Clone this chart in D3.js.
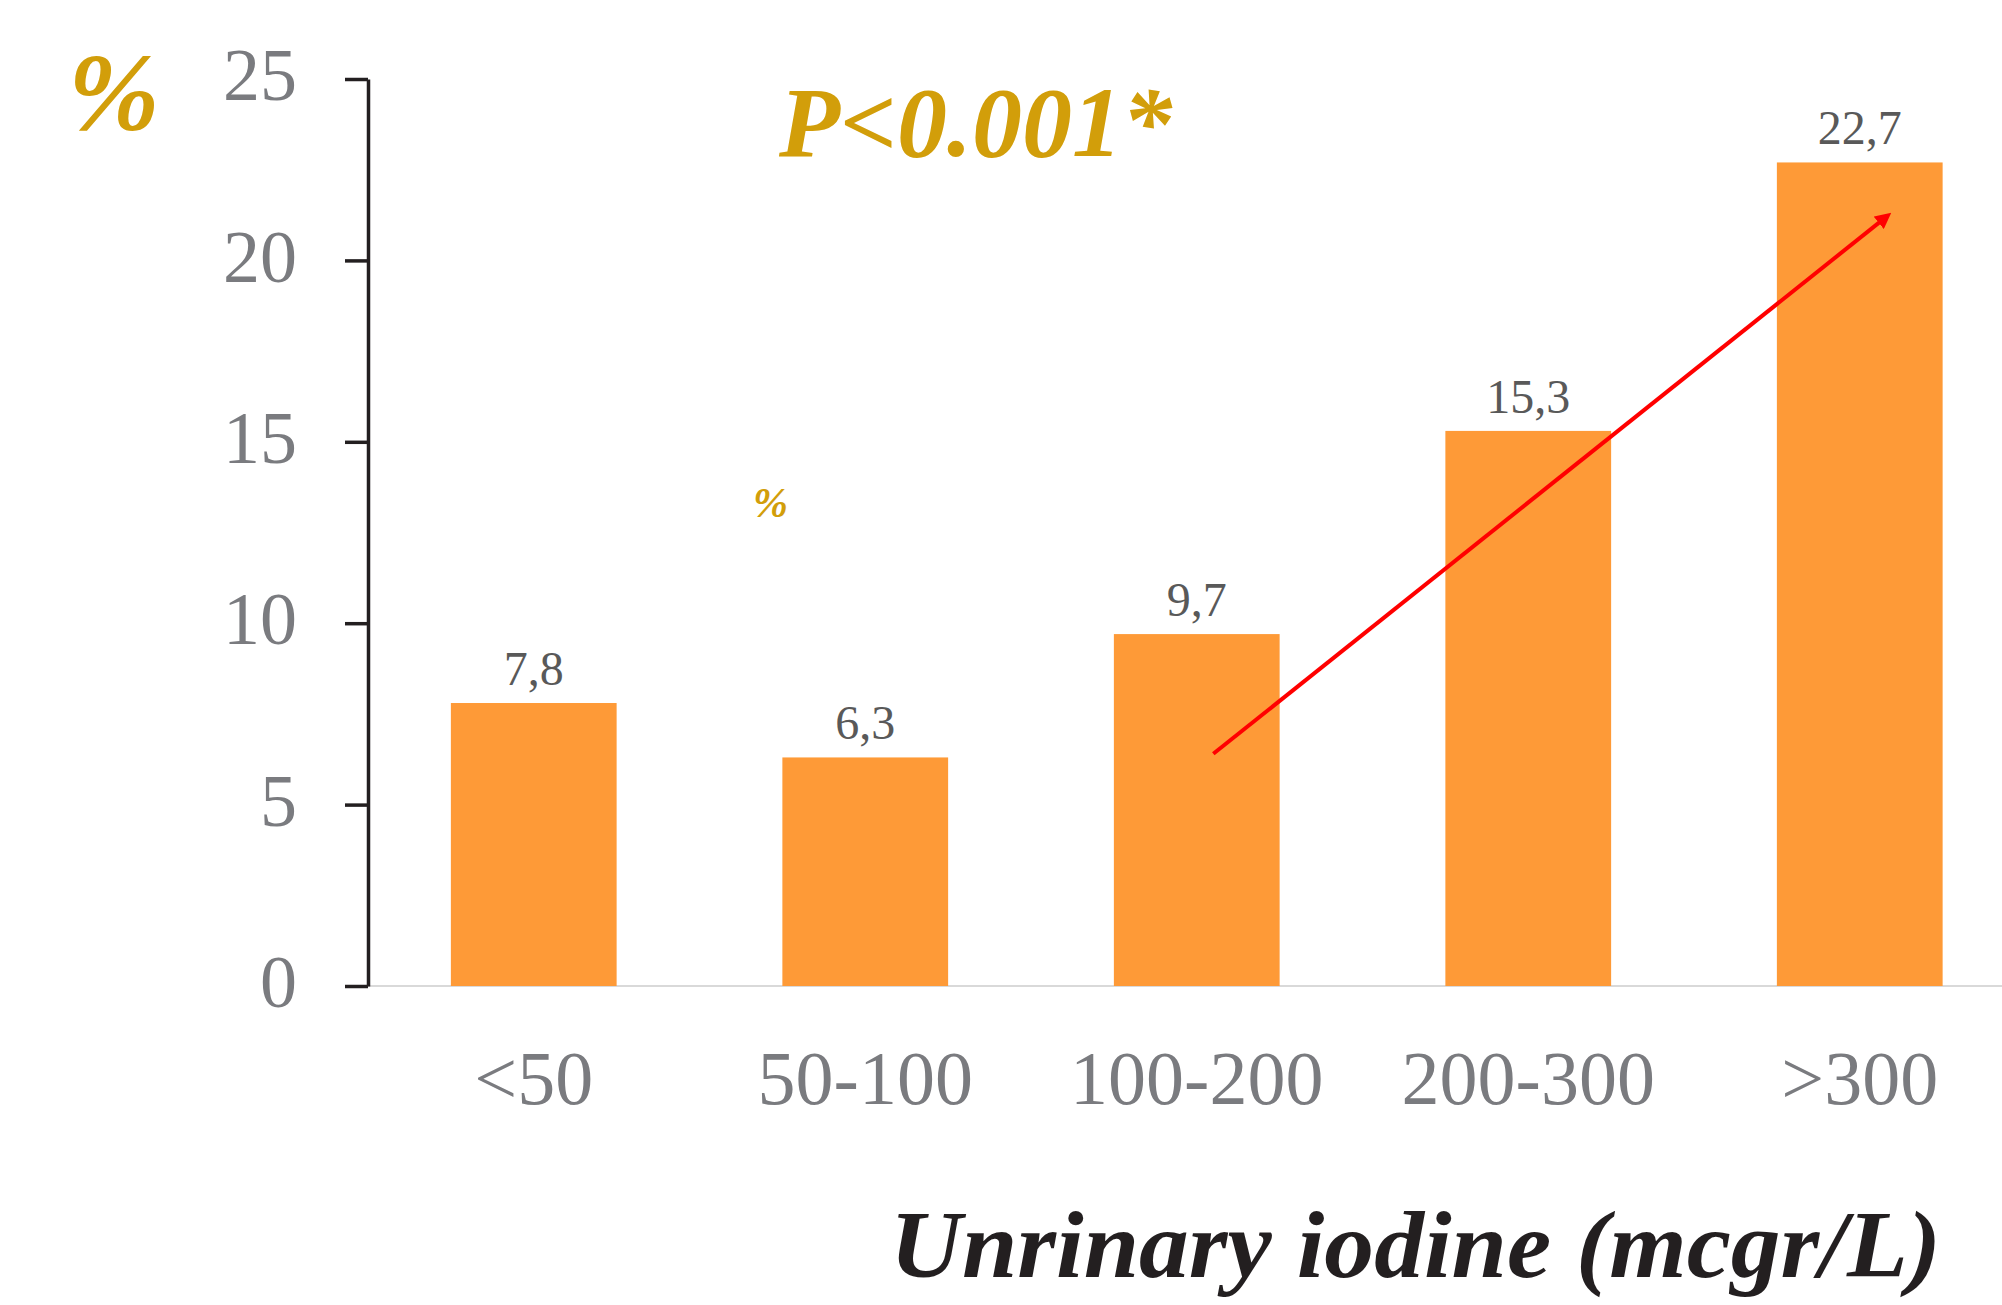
<!DOCTYPE html>
<html>
<head>
<meta charset="utf-8">
<script src="https://cdn.jsdelivr.net/npm/d3@7"></script>
<style>
  html, body { margin: 0; padding: 0; background: #fff; }
  svg { display: block; }
  text { font-family: "Liberation Serif", "Times New Roman", serif; }
</style>
</head>
<body>
<svg id="chart" width="2002" height="1305"></svg>
<script>
// Prevalence (%) by urinary iodine group
const categories = ["<50", "50-100", "100-200", "200-300", ">300"];
const values = [7.8, 6.3, 9.7, 15.3, 22.7];
const valueLabels = ["7,8", "6,3", "9,7", "15,3", "22,7"];
const yTicks = [0, 5, 10, 15, 20, 25];
// Trend arrow, in category-index / value coordinates
const trendFrom = [2.05, 6.4];
const trendTo = [4.08, 21.2];

const svg = d3.select("#chart");
const axisX = 368, yTop = 79, yBottom = 986;

const x = d3.scaleBand()
  .domain(categories)
  .range([axisX, axisX + 5 * 331.5])
  .paddingInner(0.5)
  .paddingOuter(0.25);

const y = d3.scaleLinear().domain([0, 25]).range([yBottom, yTop]);

const xIdx = d3.scaleLinear()
  .domain([0, categories.length - 1])
  .range([x(categories[0]) + x.bandwidth() / 2, x(categories[categories.length - 1]) + x.bandwidth() / 2]);

// baseline
svg.append("line")
  .attr("x1", axisX).attr("x2", 2002)
  .attr("y1", y(0)).attr("y2", y(0))
  .attr("stroke", "#d9d9d9").attr("stroke-width", 2);

// bars
svg.append("g").selectAll("rect")
  .data(values)
  .join("rect")
  .attr("x", (d, i) => x(categories[i]))
  .attr("width", x.bandwidth())
  .attr("y", d => y(d))
  .attr("height", d => y(0) - y(d))
  .attr("fill", "#fe9a37");

// value labels
svg.append("g").selectAll("text")
  .data(values)
  .join("text")
  .attr("x", (d, i) => x(categories[i]) + x.bandwidth() / 2)
  .attr("y", d => y(d) - 18)
  .attr("text-anchor", "middle")
  .attr("font-size", 48)
  .attr("fill", "#595959")
  .text((d, i) => valueLabels[i]);

// y axis
const yAxis = d3.axisLeft(y).tickValues(yTicks).tickSize(23).tickSizeOuter(0).tickPadding(48);
const gy = svg.append("g").attr("transform", `translate(${axisX},0)`).call(yAxis);
gy.select(".domain").attr("stroke", "#231f20").attr("stroke-width", 3.5);
gy.selectAll(".tick line").attr("stroke", "#231f20").attr("stroke-width", 3.5);
gy.selectAll(".tick text")
  .attr("font-family", "Liberation Serif, Times New Roman, serif")
  .attr("font-size", 74)
  .attr("fill", "#7a7b7f")
  .attr("dy", "0.28em");

// category labels
svg.append("g").selectAll("text")
  .data(categories)
  .join("text")
  .attr("x", d => x(d) + x.bandwidth() / 2)
  .attr("y", 1104)
  .attr("text-anchor", "middle")
  .attr("font-size", 76)
  .attr("fill", "#7a7b7f")
  .text(d => d);

// trend arrow
const defs = svg.append("defs");
defs.append("marker")
  .attr("id", "arrowHead")
  .attr("viewBox", "0 0 10 10")
  .attr("refX", 6).attr("refY", 5)
  .attr("markerWidth", 4).attr("markerHeight", 4)
  .attr("orient", "auto")
  .append("path")
  .attr("d", "M0,0 L10,5 L0,10 z")
  .attr("fill", "#ff0000");

svg.append("line")
  .attr("x1", xIdx(trendFrom[0])).attr("y1", y(trendFrom[1]))
  .attr("x2", xIdx(trendTo[0])).attr("y2", y(trendTo[1]))
  .attr("stroke", "#ff0000").attr("stroke-width", 4)
  .attr("marker-end", "url(#arrowHead)");

// annotations
svg.append("text")
  .attr("x", 68).attr("y", 130)
  .attr("font-size", 110).attr("font-weight", "bold").attr("font-style", "italic")
  .attr("fill", "#d29e0a")
  .text("%");

svg.append("text")
  .attr("x", 779).attr("y", 156)
  .attr("font-size", 100).attr("font-weight", "bold").attr("font-style", "italic")
  .attr("fill", "#d29e0a")
  .text("P<0.001*");

svg.append("text")
  .attr("x", 753).attr("y", 517)
  .attr("font-size", 42).attr("font-weight", "bold").attr("font-style", "italic")
  .attr("fill", "#d29e0a")
  .text("%");

svg.append("text")
  .attr("x", 890).attr("y", 1277)
  .attr("font-size", 96).attr("font-weight", "bold").attr("font-style", "italic")
  .attr("fill", "#231f20")
  .attr("textLength", 1051).attr("lengthAdjust", "spacingAndGlyphs")
  .text("Unrinary iodine (mcgr/L)");
</script>
</body>
</html>
